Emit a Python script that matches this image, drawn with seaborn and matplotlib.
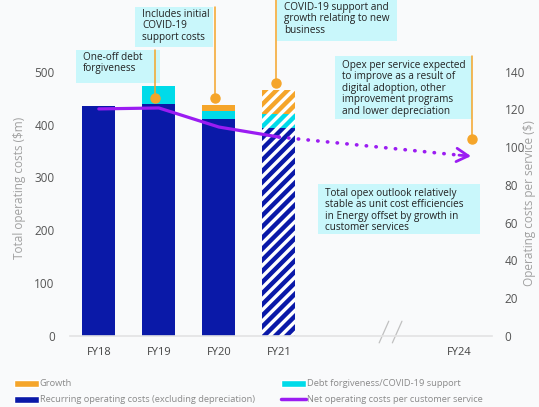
import numpy as np
import pandas as pd
import matplotlib
matplotlib.use("Agg")
import matplotlib.pyplot as plt
import matplotlib.transforms as mtransforms
import seaborn as sns
from matplotlib.patches import Rectangle, Patch
from matplotlib.lines import Line2D

# Data
years = ["FY18", "FY19", "FY20", "FY21"]
recurring = [435, 439, 411, 394]          # $m, recurring opex excl. depreciation
debt_covid = [0, 34, 15, 26]              # $m, debt forgiveness / COVID-19 support
growth = [0, 0, 11, 46]                   # $m, growth
line_years = ["FY18", "FY19", "FY20", "FY21", "FY24"]
per_service = [120.3, 120.8, 110.7, 105.4, 95.8]   # $ per customer service
forecast = ["FY21"]

# category slots on the x axis (two empty slots before FY24)
order = ["FY18", "FY19", "FY20", "FY21", "gap1", "gap2", "FY24"]
tick_labels = ["FY18", "FY19", "FY20", "FY21", "", "", "FY24"]

NAVY = "#0a19a8"
CYAN = "#00dbe9"
ORANGE = "#f5a52a"
PURPLE = "#9b1cf2"
BOX = "#c9f7fb"
BG = "#f9fafb"

sns.set_theme(style="white")
plt.rcParams["font.family"] = ["Open Sans", "DejaVu Sans"]
plt.rcParams["hatch.linewidth"] = 3.2

W, H = 539, 407
fig = plt.figure(figsize=(W / 100, H / 100), dpi=100, facecolor=BG)
ax = fig.add_axes([70 / W, 1 - 336 / H, 422 / W, 296 / H], facecolor=BG)

df = pd.DataFrame({"year": years, "recurring": recurring,
                   "debt": debt_covid, "growth": growth})
df["lvl2"] = df["recurring"] + df["debt"]
df["lvl3"] = df["lvl2"] + df["growth"]

# stacked bars drawn as overlapping layers, tallest first
for col, color in [("lvl3", ORANGE), ("lvl2", CYAN), ("recurring", NAVY)]:
    n_before = len(ax.patches)
    sns.barplot(data=df, x="year", y=col, order=order, color=color,
                width=0.55, saturation=1, ax=ax, linewidth=0)
    for p, yr in zip(ax.patches[n_before:], years):
        if yr in forecast:
            p.set_facecolor("white")
            p.set_edgecolor(color)
            p.set_hatch("///")
            p.set_linewidth(0)

ax.set_xlim(-0.48, 6.55)
ax.set_ylim(0, 560)
ax.set_yticks(range(0, 501, 100))
ax.set_xticks(range(len(order)))
ax.set_xticklabels(tick_labels)
ax.set_xlabel("")
ax.set_ylabel("Total operating costs ($m)", color="#a0a0a0", fontsize=8.5, labelpad=6)
ax.tick_params(axis="y", colors="#555555", labelsize=8.5, length=0, pad=11)
ax.tick_params(axis="x", colors="#444444", labelsize=8, length=0, pad=8)
for s in ["left", "right", "top"]:
    ax.spines[s].set_visible(False)
ax.spines["bottom"].set_color("#e3e3e3")
ax.spines["bottom"].set_linewidth(1.2)

# axis break marks
for dx in [0, 0.22]:
    ax.plot([4.67 + dx, 4.83 + dx], [-13, 28], color="#c0c0c0", lw=0.9, clip_on=False)

# per-service line on right axis
ax2 = ax.twinx()
ax2.set_ylim(0, 560 * 140 / 500)
ax2.set_yticks(range(0, 141, 20))
ax2.tick_params(axis="y", colors="#555555", labelsize=8.5, length=0, pad=9)
for s in ax2.spines.values():
    s.set_visible(False)
ax2.set_ylabel("Operating costs per service ($)", color="#a0a0a0", fontsize=8.5,
               rotation=90, va="center")
ax2.yaxis.set_label_coords(1.09, 0.45)

xs = [order.index(y) for y in line_years]
sns.lineplot(x=xs[:4], y=per_service[:4], color=PURPLE, lw=2.3, ax=ax2,
             solid_capstyle="round")
ax2.plot(xs[3:], per_service[3:], color=PURPLE, lw=2.6,
         linestyle=(0, (0.1, 2.6)), dash_capstyle="round")
# arrow head just past the FY24 point
tip = mtransforms.offset_copy(ax2.transData, fig=fig, x=12, y=-1, units="dots")
ax2.annotate("", xy=(xs[-1], per_service[-1]), xycoords=tip,
             xytext=(xs[-1], per_service[-1]), textcoords="data",
             arrowprops=dict(arrowstyle="->,head_length=0.7,head_width=0.4",
                             color=PURPLE, lw=2, shrinkA=0, shrinkB=0))

# annotation boxes (pixel layout, top-left origin)
def fx(x):
    return x / W

def fy(y):
    return 1 - y / H

boxes = [
    ((76, 50, 160, 83), (83, 52), "One-off debt\nforgiveness"),
    ((135, 7, 213, 47), (142, 9), "Includes initial\nCOVID-19\nsupport costs"),
    ((277, 0, 397, 41), (284, 2), "COVID-19 support and\ngrowth relating to new\nbusiness"),
    ((335, 56, 472, 119), (342, 60), "Opex per service expected\nto improve as a result of\ndigital adoption, other\nimprovement programs\nand lower depreciation"),
    ((318, 184, 480, 234), (325, 188), "Total opex outlook relatively\nstable as unit cost efficiencies\nin Energy offset by growth in\ncustomer services"),
]
for (x0, y0, x1, y1), (tx, ty), txt in boxes:
    fig.patches.append(Rectangle((fx(x0), fy(y1)), fx(x1 - x0), (y1 - y0) / H,
                                 transform=fig.transFigure, facecolor=BOX,
                                 edgecolor="none", zorder=3))
    fig.text(fx(tx), fy(ty), txt, ha="left", va="top", fontsize=7.2,
             color="#222222", linespacing=1.05, zorder=4)

leaders = [(155, 50, 98), (215, 7, 98), (276, 0, 83), (472, 56, 139)]
for x, y0, y1 in leaders:
    fig.add_artist(Line2D([fx(x), fx(x)], [fy(y0), fy(y1)], color=ORANGE, lw=1.1,
                          transform=fig.transFigure, zorder=5))
    fig.add_artist(Line2D([fx(x)], [fy(y1)], marker="o", markersize=6.5, color=ORANGE,
                          transform=fig.transFigure, zorder=5))

# legend
handles = [
    Patch(facecolor=ORANGE, label="Growth"),
    Patch(facecolor=NAVY, label="Recurring operating costs (excluding depreciation)"),
    Patch(facecolor=CYAN, label="Debt forgiveness/COVID-19 support"),
    Line2D([0], [0], color=PURPLE, lw=2.5, label="Net operating costs per customer service"),
]
fig.legend(handles=handles, ncol=2, loc="upper left", bbox_to_anchor=(6 / W, fy(371)),
           frameon=False, fontsize=6.7, labelcolor="#8a8a8a", handlelength=2.6,
           handleheight=0.8, handletextpad=0.1, columnspacing=2.9, labelspacing=0.75)

fig.savefig("out.png", dpi=100, facecolor=BG)
